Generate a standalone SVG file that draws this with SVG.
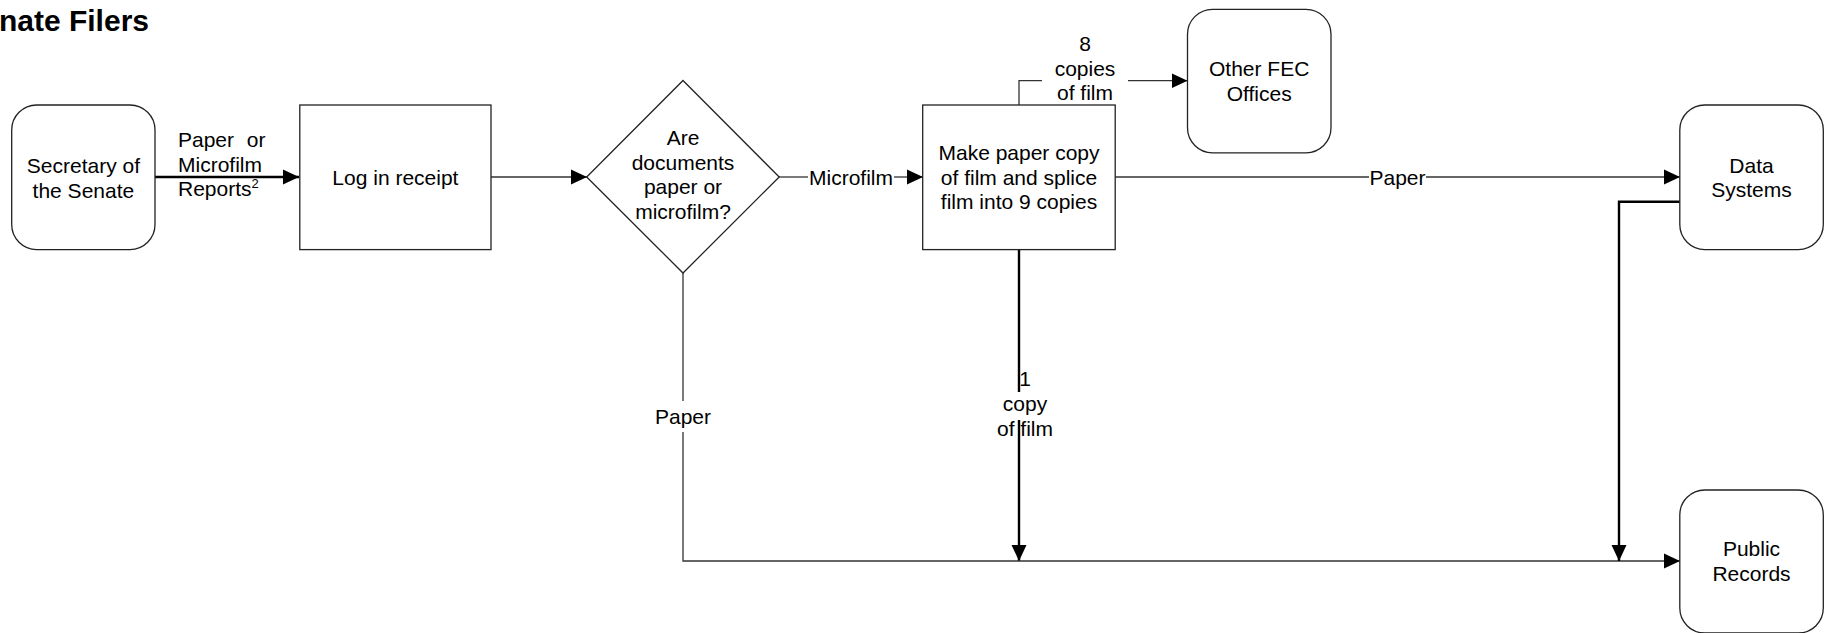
<svg xmlns="http://www.w3.org/2000/svg" width="1829" height="633" viewBox="0 0 1829 633">
<style>
text{font-family:"Liberation Sans",Arial,sans-serif;font-size:21px;fill:#000}
.c{text-anchor:middle}
.box{fill:#fff;stroke:#222;stroke-width:1.3}
.ln{fill:none;stroke:#333;stroke-width:1.3}
.tk{fill:none;stroke:#000;stroke-width:2.4}
.title{font-weight:bold;font-size:30px}
</style>
<defs>
<marker id="ah" markerUnits="userSpaceOnUse" markerWidth="16" markerHeight="16" viewBox="0 0 16 16" refX="16" refY="8" orient="auto"><path d="M0,0.5 L16,8 L0,15.5 z" fill="#000"/></marker>
</defs>
<rect width="1829" height="633" fill="#fff"/>
<text class="title" x="149" y="31" text-anchor="end">nate Filers</text>

<g id="connectors">
<path class="tk" d="M155,177 H299" marker-end="url(#ah)"/>
<path class="ln" d="M491,177 H587" marker-end="url(#ah)"/>
<path class="ln" d="M779,177 H808"/>
<path class="ln" d="M894,177 H923" marker-end="url(#ah)"/>
<path class="ln" d="M1019,105 V80.7 H1042"/>
<path class="ln" d="M1128,80.7 H1187.5" marker-end="url(#ah)"/>
<path class="ln" d="M1115,177 H1369"/>
<path class="ln" d="M1426,177 H1680" marker-end="url(#ah)"/>
<path class="tk" d="M1019,249.6 V392"/>
<path class="tk" d="M1019,420 V561" marker-end="url(#ah)"/>
<path class="ln" d="M683,273 V401"/>
<path class="ln" d="M683,432 V561 H1680" marker-end="url(#ah)"/>
<path class="tk" d="M1680,201.7 H1619 V561" marker-end="url(#ah)"/>
<text x="178" y="147" word-spacing="7">Paper or</text>
<text x="178" y="171.5">Microfilm</text>
<text x="178" y="196">Reports<tspan font-size="13" dy="-8">2</tspan></text>
<text class="c" x="851" y="184.5">Microfilm</text>
<text class="c" x="1085" y="51">8</text>
<text class="c" x="1085" y="75.5">copies</text>
<text class="c" x="1085" y="100">of film</text>
<text class="c" x="1397.5" y="184.5">Paper</text>
<text class="c" x="683" y="424">Paper</text>
<text class="c" x="1025" y="386">1</text>
<text class="c" x="1025" y="411">copy</text>
<text class="c" x="1025" y="436">of film</text>
</g>

<g id="secretary">
<rect class="box" x="11.7" y="105" width="143.3" height="144.6" rx="25"/>
<text class="c" x="83.4" y="173">Secretary of</text>
<text class="c" x="83.4" y="197.5">the Senate</text>
</g>
<g id="log">
<rect class="box" x="299.8" y="105" width="191.2" height="144.6"/>
<text class="c" x="395.4" y="184.5">Log in receipt</text>
</g>
<g id="decision">
<path class="box" d="M683,80.5 L779.2,177 L683,273 L586.7,177 Z"/>
<text class="c" x="683" y="145">Are</text>
<text class="c" x="683" y="169.5">documents</text>
<text class="c" x="683" y="194">paper or</text>
<text class="c" x="683" y="218.5">microfilm?</text>
</g>
<g id="makecopy">
<rect class="box" x="922.7" y="105" width="192.5" height="144.6"/>
<text class="c" x="1019" y="160">Make paper copy</text>
<text class="c" x="1019" y="184.5">of film and splice</text>
<text class="c" x="1019" y="209">film into 9 copies</text>
</g>
<g id="otherfec">
<rect class="box" x="1187.5" y="9.3" width="143.5" height="143.5" rx="25"/>
<text class="c" x="1259.2" y="76">Other FEC</text>
<text class="c" x="1259.2" y="100.5">Offices</text>
</g>
<g id="datasystems">
<rect class="box" x="1679.8" y="105" width="143.5" height="144.6" rx="25"/>
<text class="c" x="1751.5" y="172.5">Data</text>
<text class="c" x="1751.5" y="197">Systems</text>
</g>
<g id="publicrecords">
<rect class="box" x="1679.8" y="490" width="143.5" height="143" rx="25"/>
<text class="c" x="1751.5" y="556">Public</text>
<text class="c" x="1751.5" y="580.5">Records</text>
</g>
</svg>
